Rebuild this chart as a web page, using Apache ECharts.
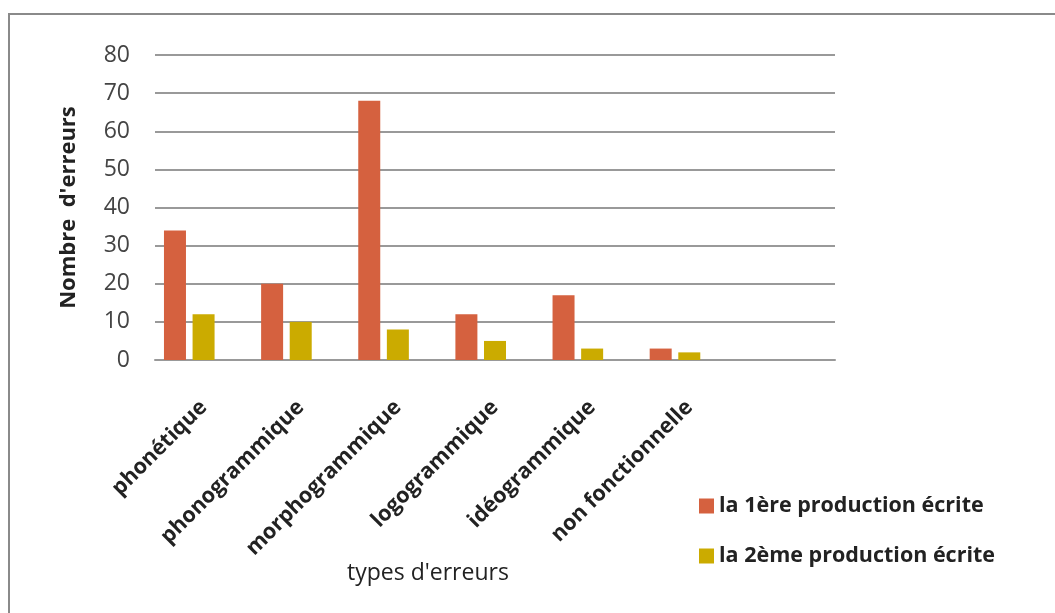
<!DOCTYPE html>
<html>
<head>
<meta charset="utf-8">
<script src="https://cdn.jsdelivr.net/npm/echarts@6/dist/echarts.min.js"></script>
<style>
  html, body { margin: 0; padding: 0; background: #fff; }
  #main { width: 1055px; height: 613px; }
  #frame {
    position: absolute; left: 8px; top: 13px; width: 1200px; height: 700px;
    border-left: 2px solid #8a8a8a; border-top: 2px solid #8a8a8a;
    pointer-events: none;
  }
</style>
</head>
<body>
<div id="main"></div>
<div id="frame"></div>
<script>
    // données du graphique
    var types = ['phonétique', 'phonogrammique', 'morphogrammique', 'logogrammique', 'idéogrammique', 'non fonctionnelle', ''];
    var prod1 = [34, 20, 68, 12, 17, 3, null];
    var prod2 = [12, 10, 8, 5, 3, 2, null];
    var vide = [null, null, null, null, null, null, null];   // 3e série vide (comme dans Excel)
    var yTicks = [0, 10, 20, 30, 40, 50, 60, 70, 80];

    var font = 'Open Sans';
    var chart = echarts.init(document.getElementById('main'));

    chart.setOption({
        animation: false,
        title: {
            text: "types d'erreurs",
            left: 342,
            top: 557,
            textStyle: { fontFamily: font, fontSize: 23, fontWeight: 'normal', color: '#222' }
        },
        legend: {
            orient: 'vertical',
            left: 694,
            top: 490,
            itemWidth: 15,
            itemHeight: 15,
            itemGap: 28,
            icon: 'rect',
            data: ['la 1ère production écrite', 'la 2ème production écrite'],
            textStyle: { fontFamily: font, fontSize: 21.5, fontWeight: 'bold', color: '#222' }
        },
        grid: { left: 155, right: 220, top: 55, bottom: 253 },
        xAxis: {
            type: 'category',
            data: types,
            axisLine: { lineStyle: { color: '#999', width: 2 } },
            axisTick: { show: false },
            axisLabel: {
                interval: 0,
                rotate: 45,
                margin: 44,
                fontFamily: font,
                fontSize: 21.5,
                fontWeight: 'bold',
                color: '#222'
            }
        },
        yAxis: {
            type: 'value',
            min: yTicks[0],
            max: yTicks[yTicks.length - 1],
            interval: 10,
            name: "Nombre  d'erreurs",
            nameLocation: 'middle',
            nameGap: 75,
            nameTextStyle: { fontFamily: font, fontSize: 22, fontWeight: 'bold', color: '#222' },
            axisLine: { show: false },
            axisTick: { show: false },
            axisLabel: { margin: 25, fontFamily: font, fontSize: 23, color: '#444' },
            splitLine: { lineStyle: { color: '#999', width: 2 } }
        },
        series: [
            { name: 'la 1ère production écrite', type: 'bar', data: prod1, barWidth: 22, barGap: '30%', itemStyle: { color: '#D5613F' } },
            { name: 'la 2ème production écrite', type: 'bar', data: prod2, barWidth: 22, barGap: '30%', itemStyle: { color: '#CBAB00' } },
            { name: 'vide', type: 'bar', data: vide, barWidth: 22, barGap: '30%' }
        ]
    });
</script>
</body>
</html>
